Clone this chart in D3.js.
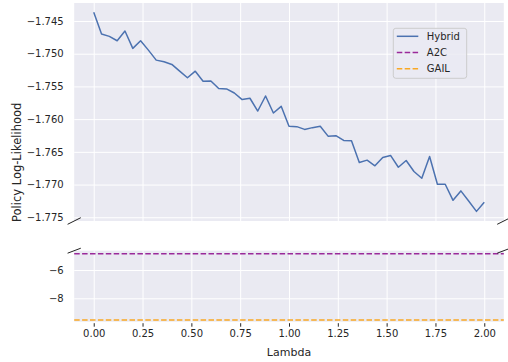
<!DOCTYPE html>
<html>
<head>
<meta charset="utf-8">
<script src="https://cdn.jsdelivr.net/npm/d3@7"></script>
<style>
  body { margin: 0; background: #fff; }
  svg text { font-family: "DejaVu Sans", sans-serif; fill: #262626; }
</style>
</head>
<body>
<div class="svg-container"></div>
<script>
var width = 508,
  height = 362;

// lambda values, 0 to 2 in steps of 0.04
var lambdas = [0.00, 0.04, 0.08, 0.12, 0.16, 0.20, 0.24, 0.28, 0.32, 0.36,
  0.40, 0.44, 0.48, 0.52, 0.56, 0.60, 0.64, 0.68, 0.72, 0.76,
  0.80, 0.84, 0.88, 0.92, 0.96, 1.00, 1.04, 1.08, 1.12, 1.16,
  1.20, 1.24, 1.28, 1.32, 1.36, 1.40, 1.44, 1.48, 1.52, 1.56,
  1.60, 1.64, 1.68, 1.72, 1.76, 1.80, 1.84, 1.88, 1.92, 1.96, 2.00];

var hybrid = [-1.74367, -1.74699, -1.74735, -1.74802, -1.74653, -1.74919, -1.74802, -1.74945, -1.75098, -1.75124,
  -1.75164, -1.75267, -1.75367, -1.75267, -1.75420, -1.75416, -1.75532, -1.75538, -1.75600, -1.75701,
  -1.75681, -1.75876, -1.75646, -1.75906, -1.75804, -1.76110, -1.76115, -1.76157, -1.76130, -1.76110,
  -1.76260, -1.76253, -1.76325, -1.76330, -1.76663, -1.76627, -1.76713, -1.76585, -1.76555, -1.76735,
  -1.76632, -1.76800, -1.76903, -1.76571, -1.76995, -1.76995, -1.77241, -1.77097, -1.77250, -1.77410,
  -1.77272];

var a2c = -4.85;
var gail = -9.53;

var xTicks = [0, 0.25, 0.5, 0.75, 1.0, 1.25, 1.5, 1.75, 2.0];
var topTicks = [-1.745, -1.750, -1.755, -1.760, -1.765, -1.770, -1.775];
var bottomTicks = [-6, -8];

var legendNames = ["Hybrid", "A2C", "GAIL"];
var colors = {Hybrid: "#4c72b0", A2C: "#9a2a9a", GAIL: "#f9a825"};

var left = 74.2, right = 503.8;
var topPanel = {y0: 3, y1: 221},
  botPanel = {y0: 250.7, y1: 321.7};

var x = d3.scaleLinear().domain([-0.1, 2.1]).range([left, right]);
var yTop = d3.scaleLinear().domain([-1.77557, -1.74225]).range([topPanel.y1, topPanel.y0]);
var yBot = d3.scaleLinear().domain([-9.654, -4.636]).range([botPanel.y1, botPanel.y0]);

var svg = d3.select(".svg-container").append("svg")
  .attr("width", width)
  .attr("height", height);

function panel(p, yScale, ticks, fmt) {
  var g = svg.append("g");
  g.append("rect")
    .attr("x", left).attr("y", p.y0)
    .attr("width", right - left).attr("height", p.y1 - p.y0)
    .attr("fill", "#eaeaf2");

  // grid
  g.append("g")
    .attr("transform", "translate(0," + p.y1 + ")")
    .call(d3.axisBottom(x).tickValues(xTicks).tickSize(-(p.y1 - p.y0)).tickFormat(""))
    .call(function(a) {
      a.select(".domain").remove();
      a.selectAll("line").attr("stroke", "#fff").attr("stroke-width", 1);
    });
  g.append("g")
    .attr("transform", "translate(" + left + ",0)")
    .call(d3.axisLeft(yScale).tickValues(ticks).tickSize(-(right - left)).tickFormat(d3.format(fmt)).tickPadding(10.5))
    .call(function(a) {
      a.select(".domain").remove();
      a.selectAll("line").attr("stroke", "#fff").attr("stroke-width", 1);
      a.selectAll("text").attr("font-size", 10).attr("fill", "#262626")
        .style("font-family", "DejaVu Sans");
    });
  return g;
}

panel(topPanel, yTop, topTicks, ".3f");
panel(botPanel, yBot, bottomTicks, ".0f");

// x axis under the bottom panel
svg.append("g")
  .attr("transform", "translate(0," + botPanel.y1 + ")")
  .call(d3.axisBottom(x).tickValues(xTicks).tickSize(3.5).tickPadding(5).tickFormat(d3.format(".2f")))
  .call(function(a) {
    a.select(".domain").remove();
    a.selectAll("line").attr("stroke", "#262626").attr("stroke-width", 1).attr("transform", "translate(0,1.5)");
    a.selectAll("text").attr("font-size", 10).attr("fill", "#262626")
      .style("font-family", "DejaVu Sans");
  });

var line = d3.line()
  .x(function(d, i) { return x(lambdas[i]); })
  .y(function(d) { return yTop(d); });

svg.append("path")
  .datum(hybrid)
  .attr("d", line)
  .attr("fill", "none")
  .attr("stroke", colors.Hybrid)
  .attr("stroke-width", 1.5)
  .attr("stroke-linejoin", "round");

svg.append("line")
  .attr("x1", left).attr("x2", right)
  .attr("y1", yBot(a2c)).attr("y2", yBot(a2c))
  .attr("stroke", colors.A2C).attr("stroke-width", 1.5)
  .attr("stroke-dasharray", "5.5,2.4");

svg.append("line")
  .attr("x1", left).attr("x2", right)
  .attr("y1", yBot(gail)).attr("y2", yBot(gail))
  .attr("stroke", colors.GAIL).attr("stroke-width", 1.5)
  .attr("stroke-dasharray", "5.5,2.4");

// break marks
var breaks = [
  {cx: left, cy: topPanel.y1, dy: 3.3},
  {cx: right, cy: topPanel.y1, dy: 3.3},
  {cx: left, cy: botPanel.y0, dy: 2.5},
  {cx: right, cy: botPanel.y0, dy: 2.5}
];
svg.selectAll(".brk")
  .data(breaks)
  .enter()
  .append("line")
  .attr("class", "brk")
  .attr("x1", function(d) { return d.cx - 6.6; })
  .attr("y1", function(d) { return d.cy + d.dy; })
  .attr("x2", function(d) { return d.cx + 6.6; })
  .attr("y2", function(d) { return d.cy - d.dy; })
  .attr("stroke", "#222")
  .attr("stroke-width", 1);

// legend
var lg = svg.append("g").attr("transform", "translate(393.3,28.3)");
lg.append("rect")
  .attr("width", 73.4).attr("height", 50).attr("rx", 2.5)
  .attr("fill", "#eaeaf2").attr("fill-opacity", 0.8)
  .attr("stroke", "#cccccc").attr("stroke-width", 1);

var items = lg.selectAll(".item")
  .data(legendNames)
  .enter()
  .append("g")
  .attr("class", "item")
  .attr("transform", function(d, i) { return "translate(0," + (8 + i * 16.2) + ")"; });
items.append("line")
  .attr("x1", 3.5).attr("x2", 25)
  .attr("stroke", function(d) { return colors[d]; })
  .attr("stroke-width", 1.5)
  .attr("stroke-dasharray", function(d, i) { return i === 0 ? null : "5.5,2.4"; });
items.append("text")
  .attr("x", 33.5).attr("y", 3.6)
  .attr("font-size", 10)
  .text(function(d) { return d; });

// axis labels
svg.append("text")
  .attr("x", (left + right) / 2).attr("y", 356)
  .attr("text-anchor", "middle")
  .attr("font-size", 11)
  .text("Lambda");

svg.append("text")
  .attr("transform", "translate(20.5," + ((topPanel.y0 + botPanel.y1) / 2) + ") rotate(-90)")
  .attr("text-anchor", "middle")
  .attr("font-size", 11.5)
  .text("Policy Log-Likelihood");
</script>
</body>
</html>
